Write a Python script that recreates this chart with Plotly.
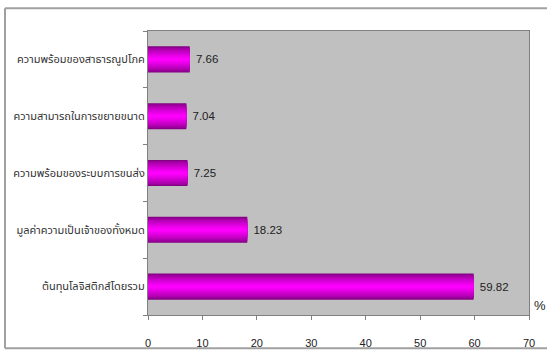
import plotly.graph_objects as go

categories = [
    "ต้นทุนโลจิสติกส์โดยรวม",
    "มูลค่าความเป็นเจ้าของทั้งหมด",
    "ความพร้อมของระบบการขนส่ง",
    "ความสามารถในการขยายขนาด",
    "ความพร้อมของสาธารณูปโภค",
]
values = [59.82, 18.23, 7.25, 7.04, 7.66]
x_ticks = [0, 10, 20, 30, 40, 50, 60, 70]

FONT = "Noto Sans Thai, Tahoma, Loma, Garuda, Arial, sans-serif"

fig = go.Figure()

N = 12
full_w = 0.46
dark = (130, 0, 130)
bright = (255, 0, 255)
for k in range(N):
    t = (k / (N - 1)) ** 0.7
    c = tuple(int(dark[i] + (bright[i] - dark[i]) * t) for i in range(3))
    w = full_w * (1 - k / N)
    fig.add_trace(go.Bar(
        x=values, y=categories, orientation="h",
        width=w,
        marker=dict(color="rgb(%d,%d,%d)" % c, line=dict(width=0)),
        text=[f" {v:.2f}" for v in values] if k == 0 else None,
        textposition="outside" if k == 0 else "none",
        textfont=dict(size=11.5, color="#222222", family="Arial, Liberation Sans"),
        cliponaxis=False,
        showlegend=False,
        hoverinfo="skip",
    ))

fig.update_layout(
    width=547, height=361,
    margin=dict(l=148, r=18, t=31, b=36),
    barmode="overlay",
    plot_bgcolor="#C0C0C0",
    paper_bgcolor="white",
    font=dict(family=FONT, color="#333333"),
    xaxis=dict(
        range=[0, 70], tickvals=x_ticks, ticks="outside", ticklen=4,
        tickcolor="#808080", showgrid=False, zeroline=False,
        showline=True, linecolor="#808080", linewidth=1, mirror=True,
        tickfont=dict(size=11, family="Arial, Liberation Sans", color="#222222"),
        ticklabelstandoff=14,
    ),
    yaxis=dict(
        ticks="outside", ticklen=4, tickcolor="#808080", tickson="boundaries",
        showgrid=False, showline=True, linecolor="#808080", linewidth=1, mirror=True,
        tickfont=dict(size=11, family=FONT, color="#333333"),
    ),
)

pw, ph = 547 - 148 - 18, 361 - 31 - 36
def px(x):
    return (x - 148) / pw
def py(y):
    return (361 - 36 - y) / ph

line = dict(color="#A0A0A0", width=2)
fig.add_shape(type="line", xref="paper", yref="paper", x0=px(5), x1=px(547), y0=py(7.5), y1=py(7.5), line=line)
fig.add_shape(type="line", xref="paper", yref="paper", x0=px(5), x1=px(5), y0=py(7.5), y1=py(359.5), line=line)
fig.add_shape(type="line", xref="paper", yref="paper", x0=px(5), x1=px(547), y0=py(359.5), y1=py(359.5), line=line)

fig.add_annotation(text="%", xref="paper", yref="paper", x=px(540), y=py(315),
                   xanchor="center", yanchor="middle",
                   showarrow=False, font=dict(size=13, color="#222222", family="Arial, Liberation Sans"))

fig.write_html("out.html")
